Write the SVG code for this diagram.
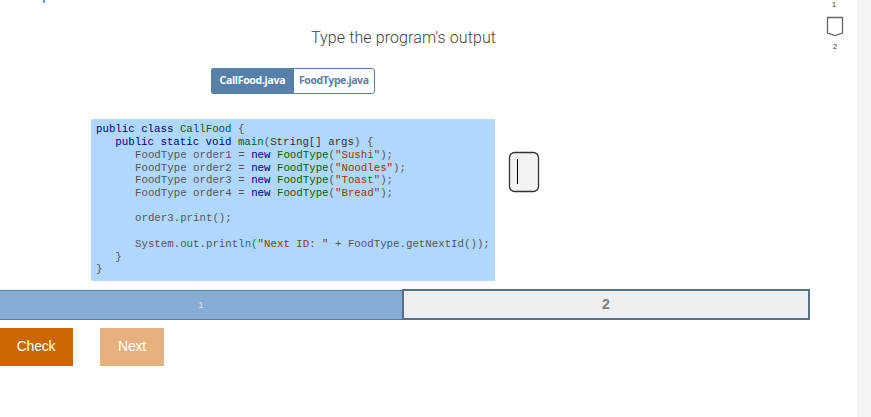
<svg xmlns="http://www.w3.org/2000/svg" width="871" height="417" viewBox="0 0 871 417">
<style>
text{font-family:"Liberation Sans",Arial,sans-serif}
.c{font-family:"Liberation Mono","Courier New",monospace;font-size:10.75px;fill:#555;white-space:pre}
.k{fill:#00007f}.t{fill:#006400}.s{fill:#8f3c00}.d{fill:#333}
</style>
<rect width="871" height="417" fill="#fff"/>
<rect x="857" y="0" width="14" height="417" fill="#f4f4f4"/>
<rect x="43" y="0" width="2" height="3" fill="#5f9fe0"/>
<g id="title"><text x="403.500" y="43" text-anchor="middle" font-size="16" fill="#444" textLength="185" style="font-family:Roboto,sans-serif;font-weight:300">Type the program's output</text></g>
<g id="tabs">
<rect x="211.500" y="68.500" width="163" height="25" rx="2.500" fill="#fff" stroke="#5780a8"/>
<path d="M294 68H214a3 3 0 0 0-3 3v20a3 3 0 0 0 3 3h80z" fill="#5780a8"/>
<text x="252.500" y="84" text-anchor="middle" font-size="10.500" font-weight="700" fill="#fff" style="font-family:'Open Sans',sans-serif" textLength="66">CallFood.java</text>
<text x="334" y="84" text-anchor="middle" font-size="10.500" font-weight="700" fill="#5780a8" style="font-family:'Open Sans',sans-serif" textLength="70">FoodType.java</text>
</g>
<g id="code">
<rect x="91" y="119" width="404" height="162" fill="#b0d8ff"/>
<text class="c" x="96" y="132"><tspan class="k">public class</tspan> <tspan class="t">CallFood</tspan> {</text>
<text class="c" x="115.300" y="145"><tspan class="k">public static void</tspan> <tspan class="t">main</tspan>(<tspan class="d">String[] args</tspan>) {</text>
<text class="c" x="135" y="158">FoodType order1 = <tspan class="k">new</tspan> <tspan class="t">FoodType</tspan>(<tspan class="s">"Sushi"</tspan>);</text>
<text class="c" x="135" y="171">FoodType order2 = <tspan class="k">new</tspan> <tspan class="t">FoodType</tspan>(<tspan class="s">"Noodles"</tspan>);</text>
<text class="c" x="135" y="183">FoodType order3 = <tspan class="k">new</tspan> <tspan class="t">FoodType</tspan>(<tspan class="s">"Toast"</tspan>);</text>
<text class="c" x="135" y="196">FoodType order4 = <tspan class="k">new</tspan> <tspan class="t">FoodType</tspan>(<tspan class="s">"Bread"</tspan>);</text>
<text class="c" x="135" y="221">order3.print();</text>
<text class="c" x="135" y="247">System.out.println(<tspan class="s">"Next ID: "</tspan> + FoodType.getNextId());</text>
<text class="c" x="115.300" y="260">}</text>
<text class="c" x="96" y="272">}</text>
</g>
<g id="input">
<rect x="509.500" y="152.500" width="29" height="39" rx="5" fill="#f2f2f2" stroke="#333" stroke-width="1.300"/>
<rect x="517" y="159" width="1" height="25" fill="#000"/>
</g>
<g id="progress">
<rect x="0" y="290" width="403" height="29" fill="#87acd3"/>
<path d="M0 290.500H403M0 319.500H403" stroke="#5780a8" fill="none"/>
<text x="201" y="308" text-anchor="middle" font-size="9" fill="#dce8f4">1</text>
<rect x="403" y="290" width="406" height="29" fill="#eee" stroke="#56708f" stroke-width="2"/>
<text x="606" y="309" text-anchor="middle" font-size="14" font-weight="700" fill="#7f7f7f">2</text>
</g>
<g id="check"><rect x="0" y="328" width="73" height="38" fill="#cc6600"/><text x="36" y="351" text-anchor="middle" font-size="14" fill="#fff" letter-spacing="-0.200">Check</text></g>
<g id="next"><rect x="100" y="328" width="64" height="38" fill="#e6b17e"/><text x="132" y="351" text-anchor="middle" font-size="14" fill="#fff" letter-spacing="-0.200">Next</text></g>
<g id="sidebar">
<text x="834" y="7" text-anchor="middle" font-size="8" fill="#444">1</text>
<path d="M827.500 17.500H842.500V33L835 35.500L827.500 33Z" fill="#fff" stroke="#666" stroke-width="1.300"/>
<text x="835" y="49" text-anchor="middle" font-size="8" fill="#444">2</text>
</g>
</svg>
